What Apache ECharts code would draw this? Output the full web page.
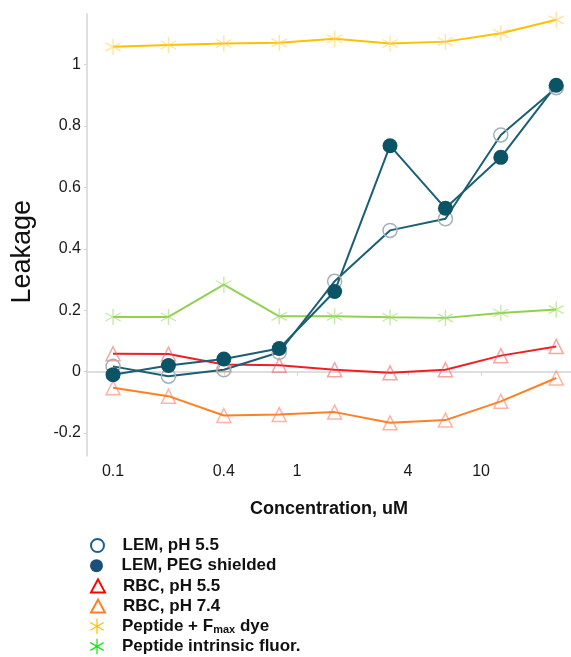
<!DOCTYPE html>
<html><head><meta charset="utf-8">
<script src="https://cdn.jsdelivr.net/npm/echarts@6/dist/echarts.min.js"></script>
<style>html,body{margin:0;padding:0;background:#fff}#c{width:571px;height:657px}</style>
</head><body><div id="c"></div>
<script>
const concentrations = [0.1, 0.2, 0.4, 0.8, 1.6, 3.2, 6.4, 12.8, 25.6];
const xTickValues = [0.1, 0.4, 1, 4, 10];
const yTickValues = [-0.2, 0, 0.2, 0.4, 0.6, 0.8, 1];
const seriesNames = ['LEM, pH 5.5', 'LEM, PEG shielded', 'RBC, pH 5.5', 'RBC, pH 7.4', 'Peptide + F_max dye', 'Peptide intrinsic fluor.'];
const lemPH55 = [0.017, -0.015, 0.006, 0.063, 0.294, 0.460, 0.498, 0.771, 0.925];
const lemPEG = [-0.010, 0.020, 0.041, 0.075, 0.261, 0.736, 0.532, 0.698, 0.933];
const rbcPH55 = [0.058, 0.057, 0.023, 0.021, 0.006, -0.004, 0.006, 0.052, 0.082];
const rbcPH74 = [-0.053, -0.080, -0.143, -0.140, -0.132, -0.167, -0.158, -0.097, -0.021];
const peptideFmax = [1.058, 1.064, 1.069, 1.071, 1.084, 1.069, 1.075, 1.102, 1.146];
const peptideIntrinsic = [0.178, 0.178, 0.283, 0.180, 0.180, 0.177, 0.175, 0.191, 0.202];

const star = 'path://M-0.08 1L0.08 1L0.08 -1L-0.08 -1Z M0.826 0.569L0.906 0.431L-0.826 -0.569L-0.906 -0.431Z M-0.906 0.431L-0.826 0.569L0.906 -0.431L0.826 -0.569Z';
const pts = arr => concentrations.map((c, i) => [c, arr[i]]);

const chart = echarts.init(document.getElementById('c'), null, {renderer: 'canvas'});
const mk = (name, data, lineColor, symbol, size, itemStyle) => ({
  name, type: 'line', data: pts(data), symbol, symbolSize: size,
  lineStyle: {color: lineColor, width: 2}, itemStyle, showSymbol: true,
  emphasis: {disabled: true}, animation: false
});
const legendItems = [
  {name: seriesNames[0], icon: 'circle', itemStyle: {color: '#fff', borderColor: '#1f5f8b', borderWidth: 2}},
  {name: seriesNames[1], icon: 'circle', itemStyle: {color: '#1b4f7a', borderWidth: 0}},
  {name: seriesNames[2], icon: 'triangle', itemStyle: {color: '#fff', borderColor: '#ff0000', borderWidth: 2}},
  {name: seriesNames[3], icon: 'triangle', itemStyle: {color: '#fff', borderColor: '#ff7f27', borderWidth: 2}},
  {name: seriesNames[4], icon: star, itemStyle: {color: '#ffc000', borderWidth: 0}},
  {name: seriesNames[5], icon: star, itemStyle: {color: '#1ee01e', borderWidth: 0}}
];
const legends = legendItems.map((it, i) => ({
  orient: 'vertical', left: 90, top: 537 + i * 20.2, itemWidth: 14, itemHeight: it.icon === star ? 18 : 13,
  selectedMode: false, padding: 0,
  textStyle: {fontFamily: 'Liberation Sans', fontSize: 17, fontWeight: 'bold', color: '#111', padding: [0, 0, 0, 13],
    rich: {sub: {fontFamily: 'Liberation Sans', fontSize: 11, fontWeight: 'bold', color: '#111', padding: [8, 0, 0, 0]}}},
  formatter: n => n === seriesNames[4] ? 'Peptide + F{sub|max} dye' : n,
  data: [it]
}));
chart.setOption({
  animation: false,
  grid: {left: 87, right: 0, top: 14, bottom: 201, containLabel: false},
  xAxis: {
    type: 'log', min: 0.0722, max: 30.8,
    name: 'Concentration, uM', nameLocation: 'middle', nameGap: 44,
    nameTextStyle: {fontFamily: 'Liberation Sans', fontSize: 18, fontWeight: 'bold', color: '#111'},
    axisLine: {lineStyle: {color: '#d4d4d4', width: 1.5}},
    axisTick: {show: true, customValues: xTickValues, length: 4, lineStyle: {color: '#d4d4d4'}},
    axisLabel: {customValues: xTickValues, fontFamily: 'Liberation Sans', fontSize: 16, color: '#1a1a1a', margin: 8,
      formatter: v => String(+v.toPrecision(3))},
    splitLine: {show: false}, minorTick: {show: false}
  },
  yAxis: {
    type: 'value', min: -0.275, max: 1.165,
    axisLine: {show: true, lineStyle: {color: '#d4d4d4', width: 1.5}},
    axisTick: {show: true, customValues: yTickValues, length: 3, lineStyle: {color: '#d4d4d4'}},
    axisLabel: {customValues: yTickValues, fontFamily: 'Liberation Sans', fontSize: 16, color: '#1a1a1a', margin: 6,
      formatter: v => String(+(+v).toFixed(2))},
    splitLine: {show: false}
  },
  legend: legends,
  graphic: [{
    type: 'text', left: 9, top: 200, rotation: Math.PI / 2,
    style: {text: 'Leakage', fontFamily: 'Liberation Sans', fontSize: 27, fill: '#111'}
  }],
  series: [
    mk(seriesNames[4], peptideFmax, '#ffc000', star, 16, {color: 'rgba(255,210,100,0.6)', borderWidth: 0}),
    mk(seriesNames[5], peptideIntrinsic, '#92d050', star, 16, {color: 'rgba(160,220,110,0.6)', borderWidth: 0}),
    mk(seriesNames[2], rbcPH55, '#f01e23', 'triangle', 14, {color: 'rgba(255,255,255,0)', borderColor: 'rgba(240,90,90,0.55)', borderWidth: 1.5}),
    mk(seriesNames[3], rbcPH74, '#ff8020', 'triangle', 14, {color: 'rgba(255,255,255,0)', borderColor: 'rgba(250,120,90,0.55)', borderWidth: 1.5}),
    mk(seriesNames[0], lemPH55, '#1a5f72', 'circle', 14, {color: 'rgba(255,255,255,0)', borderColor: '#a3b2b9', borderWidth: 1.5}),
    mk(seriesNames[1], lemPEG, '#1a5f72', 'circle', 15, {color: '#0b5466', borderWidth: 0})
  ]
});
</script></body></html>
